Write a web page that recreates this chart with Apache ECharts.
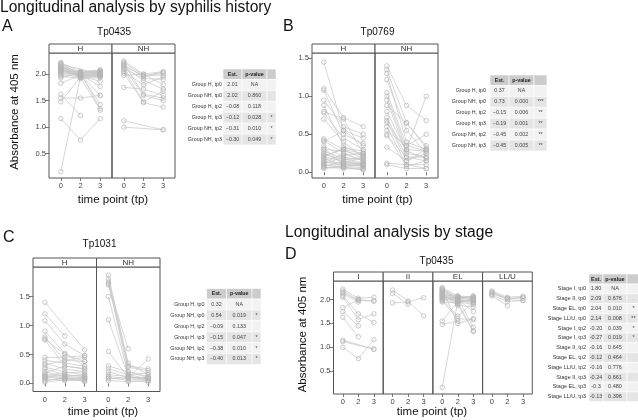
<!DOCTYPE html>
<html><head><meta charset="utf-8">
<script src="https://cdn.jsdelivr.net/npm/echarts@6/dist/echarts.min.js"></script>
<style>html,body{margin:0;padding:0;background:#fff}#c{width:638px;height:420px}</style>
</head><body><div id="c"></div><script>
// ---------- data ----------
const tpLabels = ['0', '2', '3'];          // time points (tp0, tp2, tp3)
const yTicksA = [0.5, 1.0, 1.5, 2.0];
const yTicksB = [0.0, 0.5, 1.0, 1.5];
const yTicksC = [0.0, 0.5, 1.0, 1.5];
const yTicksD = [0.5, 1.0, 1.5, 2.0];

// Panel A  Tp0435 by syphilis history (values at tp0, tp2, tp3)
const A_H = [[2.22,2.05,2.03],[2.20,2.00,1.98],[2.18,2.02,2.05],[2.16,1.98,1.95],[2.15,2.04,2.06],[2.13,2.00,2.00],[2.12,1.96,1.87],[2.10,2.02,2.02],[2.09,1.99,1.77],[2.08,1.95,1.97],[2.06,2.03,2.04],[2.05,2.00,1.43],[2.04,1.97,1.99],[2.02,2.01,2.07],[2.00,1.94,1.32],[1.98,2.00,2.01],[1.96,1.92,1.96],[1.93,2.02,1.35],[1.83,1.98,2.03],[1.62,1.22,null],[1.55,1.55,1.60],[1.48,1.95,2.00],[1.16,0.76,1.16],[0.16,1.96,1.98],[2.11,1.93,1.93],[2.07,2.05,2.08],[2.19,null,2.00],[2.14,1.99,1.60]];
const A_NH = [[2.25,2.00,2.05],[2.22,1.98,1.98],[2.20,1.62,1.55],[2.18,1.95,2.02],[2.15,1.88,1.72],[2.12,1.60,1.50],[2.10,1.92,1.90],[2.08,1.48,1.68],[2.05,1.80,1.95],[2.02,1.46,1.38],[1.98,2.00,1.80],[1.75,1.72,1.60],[2.16,1.97,2.04],[1.12,null,0.95],[1.00,null,0.95]];
// Panel B  Tp0769
const B_H = [[1.45,0.55,0.45],[1.10,0.72,0.60],[1.08,0.50,0.38],[0.95,0.60,0.50],[0.88,0.35,0.22],[0.80,0.70,0.25],[0.78,0.45,0.30],[0.70,0.40,0.20],[0.44,0.30,0.25],[0.42,0.25,0.15],[0.40,0.55,0.35],[0.35,0.20,0.12],[0.30,0.28,0.22],[0.28,0.18,0.10],[0.25,0.12,0.20],[0.22,0.30,0.18],[0.20,0.15,0.08],[0.18,0.10,0.12],[0.16,0.22,0.25],[0.15,0.08,0.06],[0.13,0.12,0.10],[0.12,0.25,0.15],[0.10,0.06,0.05],[0.09,0.10,0.08],[0.08,0.14,0.12],[0.07,0.05,0.04],[0.06,0.08,0.10],[0.05,0.07,0.03],[0.20,0.32,0.28],[0.24,0.16,0.20],[0.11,0.20,0.16],[0.32,0.10,0.09]];
const B_NH = [[1.40,0.88,0.68],[1.35,0.65,0.35],[1.30,0.40,0.30],[1.22,0.55,0.25],[1.05,0.35,0.50],[1.00,0.30,0.28],[0.95,0.25,0.20],[0.88,0.65,0.32],[0.80,0.28,0.18],[0.72,0.20,0.15],[0.68,0.15,0.25],[0.65,0.30,1.00],[0.60,0.10,0.10],[0.55,0.35,0.28],[0.50,0.08,0.15],[0.48,0.20,0.20],[0.33,0.15,0.30],[0.12,0.10,0.05],[0.10,0.05,0.05]];
// Panel C  Tp1031
const C_H = [[1.40,null,0.58],[1.20,0.82,null],[1.08,0.68,0.48],[0.90,0.52,0.30],[0.80,0.40,0.45],[0.77,0.50,0.38],[0.75,0.30,0.25],[0.45,0.45,0.48],[0.40,0.35,0.30],[0.35,0.25,0.20],[0.32,0.40,0.38],[0.28,0.20,0.15],[0.25,0.15,0.12],[0.18,0.30,0.25],[0.15,0.12,0.10],[0.12,0.10,0.08],[0.10,0.15,0.12],[0.08,0.05,0.05],[0.06,0.08,0.10],[0.04,0.10,0.03],[0.02,0.06,0.08],[0.14,0.18,0.20],[0.20,0.12,0.15],[0.11,0.08,0.06]];
const C_NH = [[1.87,0.30,0.25],[1.80,0.35,0.15],[1.75,0.20,0.10],[1.72,0.28,0.22],[1.70,0.60,null],[1.50,0.15,0.08],[1.10,0.12,0.05],[0.55,0.10,0.42],[0.30,0.20,0.12],[0.25,0.15,0.18],[0.20,0.10,0.10],[0.15,0.12,0.08],[0.12,0.08,0.05],[0.10,0.05,0.02],[0.08,0.10,0.08],[0.05,0.03,0.05]];
// Panel D  Tp0435 by stage
const D_I = [[2.22,2.03,2.05],[2.18,2.00,1.97],[2.15,1.98,1.97],[2.12,1.95,null],[2.08,1.70,1.52],[2.05,1.58,1.70],[1.83,2.00,null],[1.75,1.45,null],[1.63,1.22,null],[1.15,null,0.96],[1.00,0.76,1.16],[1.12,null,0.96]];
const D_II = [[2.20,1.97,1.66],[2.13,1.90,null],[1.93,1.95,2.04]];
const D_EL = [[2.25,2.08,2.05],[2.23,2.05,2.02],[2.21,2.02,2.08],[2.19,2.00,1.98],[2.17,2.06,2.04],[2.15,1.98,1.95],[2.13,2.03,2.00],[2.11,1.95,1.90],[2.09,2.00,1.75],[2.07,1.92,2.02],[2.05,2.04,1.42],[2.03,1.97,1.99],[2.01,1.90,1.33],[1.99,2.01,2.06],[1.97,1.60,1.58],[1.95,1.93,1.35],[2.20,1.50,1.60],[2.14,1.88,1.85],[2.00,1.65,1.95],[1.55,1.96,1.98],[1.48,1.55,null],[0.16,1.96,2.00],[2.10,2.07,2.03],[2.06,1.99,1.92]];
const D_LLU = [[2.18,2.05,2.07],[2.15,2.00,1.98],[2.12,2.02,2.03],[2.10,1.96,1.98],[2.08,1.87,null],[2.16,2.03,2.05]];

// Tables: [row label, Est., p-value, significance]
const tableHead = ['Est.', 'p-value', ''];
const tableA = [['Group H, tp0','2.01','NA',''],['Group NH, tp0','2.02','0.860',''],['Group H, tp2','\u22120.08','0.118',''],['Group H, tp3','\u22120.12','0.028','*'],['Group NH, tp2','\u22120.31','0.010','*'],['Group NH, tp3','\u22120.30','0.049','*']];
const tableB = [['Group H, tp0','0.37','NA',''],['Group NH, tp0','0.73','0.000','***'],['Group H, tp2','\u22120.15','0.006','**'],['Group H, tp3','\u22120.19','0.001','**'],['Group NH, tp2','\u22120.45','0.002','**'],['Group NH, tp3','\u22120.45','0.005','**']];
const tableC = [['Group H, tp0','0.32','NA',''],['Group NH, tp0','0.54','0.019','*'],['Group H, tp2','\u22120.09','0.133',''],['Group H, tp3','\u22120.15','0.047','*'],['Group NH, tp2','\u22120.38','0.010','*'],['Group NH, tp3','\u22120.40','0.013','*']];
const tableD = [['Stage I, tp0','1.80','NA',''],['Stage II, tp0','2.09','0.676','.'],['Stage EL, tp0','2.04','0.010','*'],['Stage LL/U, tp0','2.14','0.008','**'],['Stage I, tp2','-0.20','0.039','*'],['Stage I, tp3','-0.27','0.019','*'],['Stage II, tp2','-0.16','0.645',''],['Stage EL, tp2','-0.12','0.464',''],['Stage LL/U, tp2','-0.16','0.776',''],['Stage II, tp3','-0.24','0.661',''],['Stage EL, tp3','-0.3','0.480',''],['Stage LL/U, tp3','-0.13','0.396','']];

// ---------- layout / rendering ----------
const FONT = "'Liberation Sans', Arial, Helvetica, sans-serif";
const BORDER = '#555';
const LINE = '#c6c6c6';
const PT = '#b4b4b4';

const panels = [
  {groups:[['H',A_H],['NH',A_NH]], left:49, top:53, w:63, h:125, ymin:0.04, ymax:2.40, yt:yTicksA},
  {groups:[['H',B_H],['NH',B_NH]], left:312, top:53, w:63, h:125, ymin:-0.075, ymax:1.57, yt:yTicksB},
  {groups:[['H',C_H],['NH',C_NH]], left:33, top:267, w:63.5, h:124.5, ymin:-0.14, ymax:2.01, yt:yTicksC},
  {groups:[['I',D_I],['II',D_II],['EL',D_EL],['LL/U',D_LLU]], left:333.5, top:281, w:49.7, h:113, ymin:0.02, ymax:2.39, yt:yTicksD}
];

const grid = [], xAxis = [], yAxis = [], series = [], graphic = [];
let gi = 0;
panels.forEach(p => {
  p.groups.forEach(([name, subjects], i) => {
    const left = p.left + i * p.w;
    grid.push({left: left, top: p.top, width: p.w, height: p.h, show: true, borderColor: BORDER, borderWidth: 1, backgroundColor: 'transparent'});
    xAxis.push({type: 'value', gridIndex: gi, min: 0.4, max: 3.6,
      axisLine: {show: false}, splitLine: {show: false},
      axisTick: {show: true, customValues: [1,2,3], length: 3, lineStyle: {color: BORDER, width: 0.8}},
      axisLabel: {customValues: [1,2,3], formatter: v => tpLabels[Math.round(v) - 1], fontSize: 7.5, color: '#444', margin: 4, fontFamily: FONT}});
    yAxis.push({type: 'value', gridIndex: gi, min: p.ymin, max: p.ymax,
      axisLine: {show: false}, splitLine: {show: false},
      axisTick: {show: i === 0, customValues: p.yt, length: 4, lineStyle: {color: BORDER, width: 0.8}},
      axisLabel: {show: i === 0, customValues: p.yt, formatter: v => Number(v).toFixed(1), fontSize: 7.5, color: '#444', margin: 3, fontFamily: FONT}});
    subjects.forEach(vals => {
      const data = vals.map((v, k) => v == null ? null : [k + 1, v]).filter(Boolean);
      series.push({type: 'line', xAxisIndex: gi, yAxisIndex: gi, data: data,
        symbol: 'circle', symbolSize: 4.5, silent: true,
        lineStyle: {color: LINE, width: 0.7},
        itemStyle: {color: 'rgba(0,0,0,0)', borderColor: PT, borderWidth: 0.7},
        emphasis: {disabled: true}});
    });
    // strip
    graphic.push({type: 'rect', shape: {x: left, y: p.top - 9, width: p.w, height: 9}, style: {fill: '#fff', stroke: BORDER, lineWidth: 1}, silent: true});
    graphic.push({type: 'text', x: left + p.w / 2, y: p.top - 4.3, style: {text: name, fill: '#333', font: '8px ' + FONT, textAlign: 'center', textVerticalAlign: 'middle'}, silent: true});
    gi++;
  });
});

function txt(s, x, y, size, opts) {
  graphic.push(Object.assign({type: 'text', x: x, y: y, silent: true,
    style: {text: s, fill: '#111', font: size + 'px ' + FONT, textAlign: 'center', textVerticalAlign: 'middle'}}, opts || {}));
}
function ltxt(s, x, y, size) {
  graphic.push({type: 'text', x: x, y: y, silent: true, style: {text: s, fill: '#111', font: size + 'px ' + FONT, textAlign: 'left', textVerticalAlign: 'middle'}});
}
ltxt('Longitudinal analysis by syphilis history', 0, 8, 15.6);
ltxt('Longitudinal analysis by stage', 285, 232.5, 15.6);
ltxt('A', 2, 27, 16); ltxt('B', 283, 27, 16); ltxt('C', 3, 238, 16); ltxt('D', 285, 255, 16);
txt('Tp0435', 114, 32.5, 10); txt('Tp0769', 377.5, 32, 10); txt('Tp1031', 99.5, 244.5, 10); txt('Tp0435', 436.5, 261, 10);
txt('time point (tp)', 113, 200, 11.5); txt('time point (tp)', 377.5, 200, 11.5); txt('time point (tp)', 103, 412, 11.5); txt('time point (tp)', 432, 412, 11.5);
txt('Absorbance at 405 nm', 15, 112, 11.5, {rotation: Math.PI / 2});
txt('Absorbance at 405 nm', 302.5, 334.5, 11.5, {rotation: Math.PI / 2});

function table(rows, labelRight, cols, headTop, headH, rowH, fs) {
  for (let c = 0; c < 3; c++) {
    graphic.push({type: 'rect', silent: true, shape: {x: cols[c], y: headTop, width: cols[c+1] - cols[c], height: headH}, style: {fill: '#cccccc', stroke: '#fff', lineWidth: 0.6}});
    graphic.push({type: 'text', silent: true, x: (cols[c] + cols[c+1]) / 2, y: headTop + headH / 2, style: {text: tableHead[c], fill: '#222', font: 'bold ' + fs + 'px ' + FONT, textAlign: 'center', textVerticalAlign: 'middle'}});
  }
  rows.forEach((r, i) => {
    const y = headTop + headH + i * rowH;
    graphic.push({type: 'text', silent: true, x: labelRight, y: y + rowH / 2, style: {text: r[0], fill: '#333', font: fs + 'px ' + FONT, textAlign: 'right', textVerticalAlign: 'middle'}});
    for (let c = 0; c < 3; c++) {
      graphic.push({type: 'rect', silent: true, shape: {x: cols[c], y: y, width: cols[c+1] - cols[c], height: rowH}, style: {fill: i % 2 === 0 ? '#f2f2f2' : '#e5e5e5', stroke: '#fff', lineWidth: 0.6}});
      graphic.push({type: 'text', silent: true, x: (cols[c] + cols[c+1]) / 2, y: y + rowH / 2, style: {text: r[c+1], fill: '#444', font: fs + 'px ' + FONT, textAlign: 'center', textVerticalAlign: 'middle'}});
    }
  });
}
table(tableA, 222, [223, 242, 267, 276], 69, 10.5, 10.9, 5.3);
table(tableB, 486, [490, 509, 534, 547], 75, 10.5, 10.9, 5.3);
table(tableC, 204.5, [206.5, 226.5, 252, 261], 288.5, 10.5, 10.9, 5.3);
table(tableD, 586, [589, 603, 627, 640], 274, 10, 9.8, 5.5);

const chart = echarts.init(document.getElementById('c'), null, {renderer: 'canvas'});
chart.setOption({animation: false, backgroundColor: '#fff', grid, xAxis, yAxis, series, graphic});
</script></body></html>
